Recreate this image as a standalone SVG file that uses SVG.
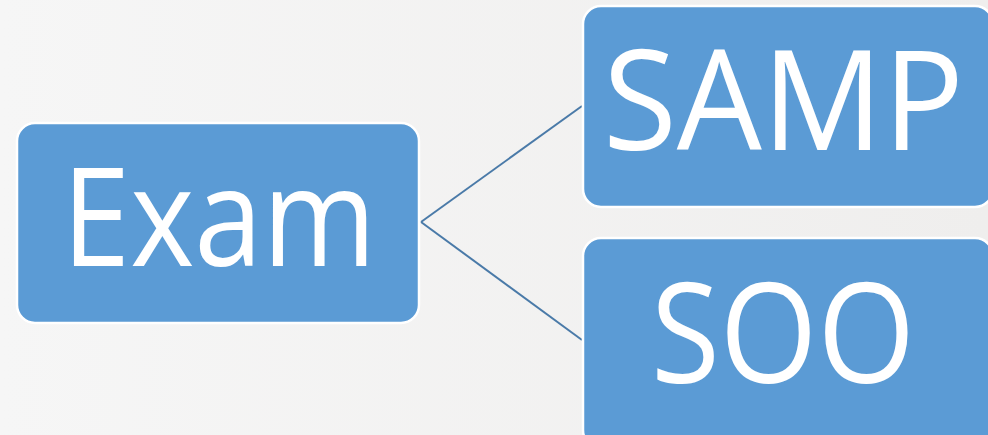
<svg xmlns="http://www.w3.org/2000/svg" width="988" height="435" viewBox="0 0 988 435">
<defs>
<linearGradient id="bg" x1="0" y1="0" x2="1" y2="0">
<stop offset="0" stop-color="#f6f6f6"/>
<stop offset="1" stop-color="#efeeed"/>
</linearGradient>
<style>
.box{fill:#5b9bd5;stroke:#ffffff;stroke-width:2.5}
.lbl{fill:#ffffff;font-family:"Open Sans","Noto Sans",sans-serif}
.conn{stroke:#4a7aa8;stroke-width:2;fill:none}
</style>
</defs>
<rect width="988" height="435" fill="url(#bg)"/>
<g id="connectors">
<line class="conn" x1="421" y1="222" x2="582" y2="106"/>
<line class="conn" x1="421" y1="222" x2="582" y2="340"/>
</g>
<g id="exam">
<rect class="box" x="17" y="123" width="402" height="200" rx="18"/>
<text class="lbl" x="62" y="266" font-size="137" textLength="314" lengthAdjust="spacingAndGlyphs">Exam</text>
</g>
<g id="samp">
<rect class="box" x="583" y="6" width="410" height="201" rx="18"/>
<text class="lbl" x="603" y="150" font-size="140" textLength="361" lengthAdjust="spacingAndGlyphs">SAMP</text>
</g>
<g id="soo">
<rect class="box" x="583" y="238" width="410" height="210" rx="18"/>
<text class="lbl" x="651" y="383" font-size="140" textLength="264" lengthAdjust="spacingAndGlyphs">SOO</text>
</g>
</svg>
